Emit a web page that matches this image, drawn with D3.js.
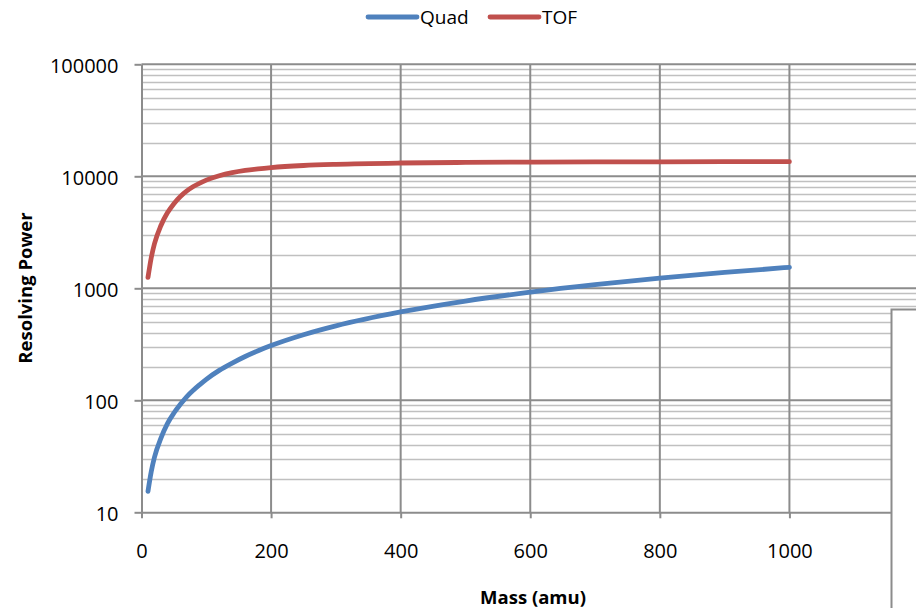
<!DOCTYPE html>
<html>
<head>
<meta charset="utf-8">
<script src="https://cdn.jsdelivr.net/npm/d3@7"></script>
<style>
  body { margin: 0; background: #fff; }
  text { font-family: "Open Sans", sans-serif; fill: #000; }
</style>
</head>
<body>
<div class="graph"></div>
<script>
// mass (amu) sample points
var mass = [10, 15, 20, 30, 40, 50, 60, 70, 80, 90, 100, 120, 140, 160, 180, 200, 250, 300, 400, 500, 600, 700, 800, 900, 1000];
var quad = [15.4, 23, 31, 46, 62, 77, 92, 108, 123, 138, 154, 185, 215, 246, 277, 308, 385, 462, 615, 770, 923, 1077, 1231, 1385, 1540];
var tof = [1250, 1870, 2500, 3640, 4720, 5700, 6600, 7400, 8100, 8700, 9240, 10100, 10770, 11280, 11660, 11970, 12490, 12800, 13140, 13300, 13390, 13450, 13480, 13500, 13520];
var xTicks = [0, 200, 400, 600, 800, 1000];
var xGrid = [200, 400, 600, 800, 1000, 1200];
var yTicks = [10, 100, 1000, 10000, 100000];
var seriesNames = ["Quad", "TOF"];
var seriesColors = ["#4f81bd", "#c0504d"];

var width = 916, height = 608;
var svg = d3.select(".graph").append("svg")
    .attr("width", width)
    .attr("height", height);

var x = d3.scaleLinear().domain([0, 1200]).range([141.5, 919]);
var y = d3.scaleLog().domain([10, 100000]).range([512.3, 64.3]);

// minor gridlines
var minor = [];
for (var k = 1; k < 5; k++) {
    for (var j = 2; j <= 9; j++) minor.push(j * Math.pow(10, k));
}
svg.append("g").selectAll("line").data(minor).enter().append("line")
    .attr("x1", x(0)).attr("x2", x(1200))
    .attr("y1", d => Math.round(y(d)) + 0.5).attr("y2", d => Math.round(y(d)) + 0.5)
    .attr("stroke", "#c0c0c0").attr("stroke-width", 1.6);

// major gridlines
svg.append("g").selectAll("line").data(yTicks.slice(1)).enter().append("line")
    .attr("x1", x(0)).attr("x2", x(1200))
    .attr("y1", d => y(d)).attr("y2", d => y(d))
    .attr("stroke", "#8c8c8c").attr("stroke-width", 2);
svg.append("g").selectAll("line").data(xGrid).enter().append("line")
    .attr("x1", d => x(d)).attr("x2", d => x(d))
    .attr("y1", y(100000)).attr("y2", y(10))
    .attr("stroke", "#8c8c8c").attr("stroke-width", 2);

// axes
var yAxis = svg.append("g")
    .attr("transform", `translate(${x(0)},0)`)
    .call(d3.axisLeft(y).tickValues(yTicks).tickFormat(d3.format("d")).tickSize(7).tickSizeOuter(0).tickPadding(16));
var xAxis = svg.append("g")
    .attr("transform", `translate(0,${y(10)})`)
    .call(d3.axisBottom(x).tickValues(xTicks).tickFormat(d3.format("d")).tickSize(6).tickSizeOuter(0).tickPadding(26));
[yAxis, xAxis].forEach(function (a) {
    a.selectAll("path, line").attr("stroke", "#8c8c8c").attr("stroke-width", 2);
    a.selectAll("text").style("font-size", "20px").attr("fill", "#000");
});
yAxis.selectAll("text").attr("dy", "0.42em");

// the lines
var valueLine = d3.line()
    .x(d => x(d.m))
    .y(d => y(d.v))
    .curve(d3.curveMonotoneX);
[quad, tof].forEach(function (vals, i) {
    var data = mass.map((m, n) => ({ m: m, v: vals[n] }));
    svg.append("path")
        .datum(data)
        .attr("fill", "none")
        .attr("stroke", seriesColors[i])
        .attr("stroke-width", 4.8)
        .attr("stroke-linecap", "round")
        .attr("stroke-linejoin", "round")
        .attr("d", valueLine);
});

// box overlapping the lower right corner
svg.append("rect")
    .attr("x", 891.5).attr("y", 309.5)
    .attr("width", 60).attr("height", 320)
    .attr("fill", "#fff").attr("stroke", "#8c8c8c").attr("stroke-width", 2);

// axis titles
svg.append("text")
    .attr("x", 533).attr("y", 604)
    .attr("text-anchor", "middle")
    .style("font-size", "18.5px").style("font-weight", "bold")
    .text("Mass (amu)");
svg.append("text")
    .attr("transform", "translate(32,288) rotate(-90)")
    .attr("text-anchor", "middle")
    .style("font-size", "18.5px").style("font-weight", "bold")
    .text("Resolving Power");

// legend
var legendX = [368, 490];
seriesNames.forEach(function (name, i) {
    var g = svg.append("g").attr("transform", `translate(${legendX[i]},17)`);
    g.append("line")
        .attr("x1", 0).attr("x2", 49)
        .attr("stroke", seriesColors[i]).attr("stroke-width", 4.8)
        .attr("stroke-linecap", "round");
    g.append("text")
        .attr("x", 52).attr("y", 7)
        .style("font-size", "19px")
        .text(name);
});
</script>
</body>
</html>
